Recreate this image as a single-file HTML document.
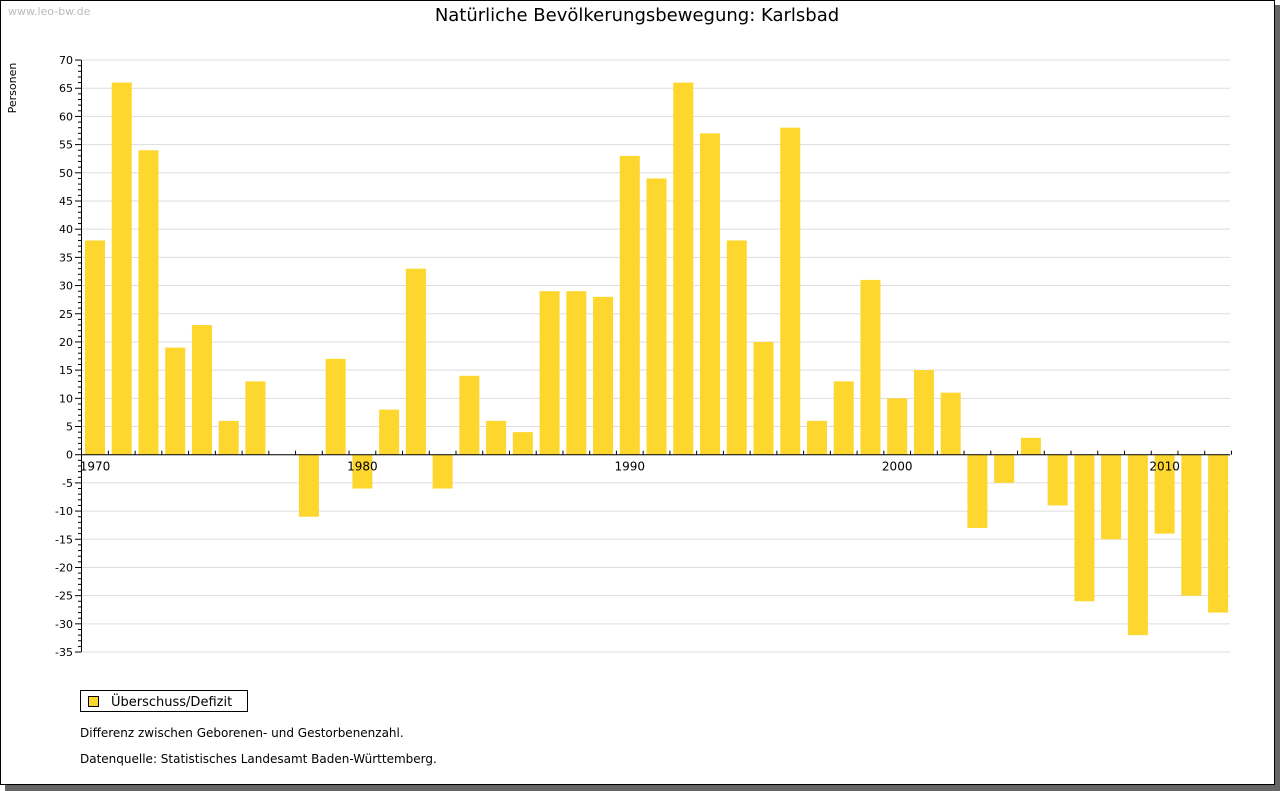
<!DOCTYPE html>
<html><head><meta charset="utf-8"><style>
body{margin:0;background:#fff;}
svg{display:block;font-family:"DejaVu Sans","Liberation Sans",sans-serif;}
</style></head><body>
<svg id="c" width="1280" height="791" xmlns="http://www.w3.org/2000/svg">
<rect x="5" y="5" width="1275" height="786" fill="#666"/>
<rect x="0.5" y="0.5" width="1274" height="784" fill="#fff" stroke="#000"/>
<text x="8" y="15" font-size="11" fill="#bbb">www.leo-bw.de</text>
<text x="637" y="21" font-size="18" text-anchor="middle" fill="#000">Natürliche Bevölkerungsbewegung: Karlsbad</text>
<text transform="translate(16,88) rotate(-90)" font-size="11" text-anchor="middle">Personen</text>
<g id="grid"></g><g id="bars"></g><g id="axes"></g>
<rect x="80.5" y="690.5" width="167" height="21" fill="#fff" stroke="#000"/>
<rect x="88.5" y="696.5" width="10" height="10" fill="#fdd62e" stroke="#000"/>
<text x="111" y="706" font-size="13">Überschuss/Defizit</text>
<text x="80" y="737" font-size="12">Differenz zwischen Geborenen- und Gestorbenenzahl.</text>
<text x="80" y="763" font-size="12">Datenquelle: Statistisches Landesamt Baden-Württemberg.</text>
</svg>
<script>
const years=[1970,1971,1972,1973,1974,1975,1976,1977,1978,1979,1980,1981,1982,1983,1984,1985,1986,1987,1988,1989,1990,1991,1992,1993,1994,1995,1996,1997,1998,1999,2000,2001,2002,2003,2004,2005,2006,2007,2008,2009,2010,2011,2012];
const values=[38,66,54,19,23,6,13,0,-11,17,-6,8,33,-6,14,6,4,29,29,28,53,49,66,57,38,20,58,6,13,31,10,15,11,-13,-5,3,-9,-26,-15,-32,-14,-25,-28];
const yTicks=[70,65,60,55,50,45,40,35,30,25,20,15,10,5,0,-5,-10,-15,-20,-25,-30,-35];
const xLabels=[1970,1980,1990,2000,2010];
const NS="http://www.w3.org/2000/svg";
const y=v=>454.7-(v)*5.638;
const x=yr=>95+(yr-1970)*26.74;
function mk(t,a,p){const e=document.createElementNS(NS,t);for(const k in a)e.setAttribute(k,a[k]);document.getElementById(p).appendChild(e);return e;}
yTicks.forEach(v=>{
 const g=mk('line',{x1:81,x2:1230,y1:y(v),y2:y(v),stroke:'#ddd'},'grid');
 
 
 const t=mk('text',{x:73,y:y(v)+4,'font-size':11,'text-anchor':'end'},'axes');t.textContent=v;
 
 
 mk('line',{x1:75,x2:81,y1:y(v),y2:y(v),stroke:'#000'},'axes');
});
for(let v=-35;v<=70;v++){if(v%5)mk('line',{x1:78,x2:81,y1:y(v),y2:y(v),stroke:'#000'},'axes');}
years.forEach((yr,i)=>{
 const v=values[i];const top=Math.min(y(v),y(0)),h=Math.abs(y(v)-y(0));
 const r=mk('rect',{x:x(yr)-10,y:top,width:20,height:h,fill:'#fdd62e'},'bars');
 
 
 mk('line',{x1:x(yr)+13.37,x2:x(yr)+13.37,y1:y(0)-4,y2:y(0),stroke:'#000'},'axes');
});
mk('line',{x1:81,x2:1230,y1:y(0),y2:y(0),stroke:'#000'},'axes');
mk('line',{x1:81.5,x2:81.5,y1:y(70),y2:y(-35),stroke:'#000'},'axes');
mk('line',{x1:81.5,x2:81.5,y1:y(0),y2:y(0)+6,stroke:'#000'},'axes');
xLabels.forEach(yr=>{
 const t=mk('text',{x:x(yr),y:y(0)+16,'font-size':12,'text-anchor':'middle'},'axes');t.textContent=yr;
 
 
});
</script>
</body></html>
